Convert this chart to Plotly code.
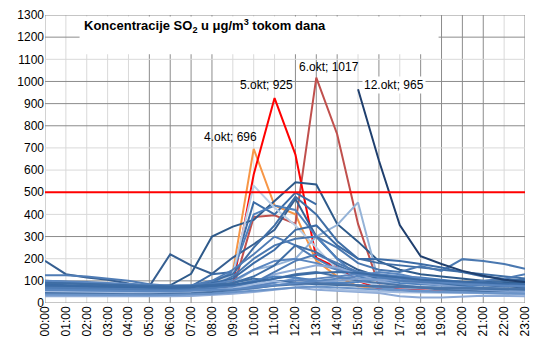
import plotly.graph_objects as go

hours = ["%02d:00" % h for h in range(24)]

okt4 = [60,58,55,52,50,52,55,60,80,140,696,440,400,190,120,75,65,62,60,58,57,56,55,55]
okt5 = [62,60,58,56,55,56,58,62,50,80,580,925,670,203,160,100,65,62,60,60,58,57,56,55]
okt6 = [65,62,60,58,57,58,60,62,48,60,388,396,357,1017,762,357,80,66,64,62,60,58,57,56]
okt12 = [None]*15 + [965,643,352,211,176,145,123,105,95]

b01 = [190,130,115,105,88,75,220,170,132,205,265,330,470,300,200,150,120,100,95,90,85,80,75,70]
b02 = [80,75,70,65,60,75,80,132,300,345,375,460,545,535,357,277,189,150,130,120,110,100,95,90]
b03 = [100,95,90,85,80,70,70,75,130,140,455,400,498,445,None,None,None,None,None,None,None,None,None,None]
b04 = [70,65,60,58,55,55,60,70,90,140,400,440,420,300,200,120,100,90,85,80,75,70,65,60]
b05 = [60,55,50,48,45,45,50,60,80,130,530,430,350,250,150,100,80,70,65,60,58,55,52,50]
b06 = [40,38,35,35,33,35,40,45,60,90,150,170,200,300,352,454,92,80,75,70,65,60,58,55]
b07 = [95,90,85,80,75,70,65,70,100,130,250,350,480,400,280,200,180,170,160,150,140,130,120,110]
b08 = [60,58,55,50,48,50,55,60,75,120,200,260,290,300,250,180,150,140,167,145,198,190,176,155]
b09 = [85,80,75,72,70,68,65,70,90,110,180,240,330,350,260,200,198,190,176,160,140,120,110,100]
b10 = [125,125,120,110,100,85,78,80,100,150,220,300,260,200,150,130,120,110,100,95,90,100,110,130]
b11 = [100,98,95,90,85,80,78,80,85,100,150,190,200,180,150,140,130,120,110,100,95,90,85,80]
b12 = [75,72,70,68,65,62,60,62,70,90,120,170,260,230,170,130,110,100,90,85,80,90,100,105]
b13 = [50,48,46,45,44,43,45,50,60,70,90,130,150,170,160,130,100,80,70,65,60,58,55,55]
b14 = [45,44,42,40,40,40,42,45,50,60,80,110,130,140,120,100,90,80,70,60,55,50,48,45]
b15 = [35,34,33,32,32,32,34,38,45,55,70,90,110,100,90,80,70,60,55,50,48,45,42,40]
b16 = [65,62,60,58,56,55,55,58,65,80,100,120,115,100,90,95,110,120,115,105,95,85,80,75]
b17 = [55,52,50,48,47,46,47,50,55,65,75,95,100,110,120,130,120,110,100,95,90,85,80,78]
b18 = [40,38,36,35,35,35,36,40,48,55,65,80,90,95,100,110,105,100,90,80,70,60,55,50]
b19 = [30,30,29,28,28,28,30,32,36,42,50,60,70,60,55,50,45,30,25,25,28,33,32,30]
b20 = [90,88,85,82,80,78,76,78,82,90,110,100,90,85,80,78,75,72,70,68,66,64,62,60]
b21 = [70,68,66,64,62,60,60,62,68,75,90,140,190,220,180,140,120,100,95,90,85,80,78,75]
b22 = [50,50,48,47,46,45,45,48,55,65,85,100,80,70,60,55,50,48,47,46,45,44,43,42]
b23 = [45,43,42,41,40,40,41,44,50,58,68,78,85,90,85,80,76,72,70,68,67,66,65,64]
b24 = [60,58,56,55,54,53,53,55,58,62,70,80,90,100,110,120,140,130,110,95,85,80,78,76]
b25 = [38,37,36,35,35,35,36,38,42,48,56,64,70,75,70,65,60,56,52,50,48,46,44,42]
b26 = [80,78,76,74,72,70,70,72,76,82,95,110,125,135,140,135,125,115,105,100,95,90,88,86]

blue_series = [b01,b02,b03,b04,b05,b06,b07,b08,b09,b10,b11,b12,b13,
               b14,b15,b16,b17,b18,b19,b20,b21,b22,b23,b24,b25,b26]
blue_colors = ['#365F91','#2E5A8A','#3B6BA5','#4F81BD','#B9CDE5','#95B3D7','#3F6EA5',
               '#4A78B0','#3B6BA5','#4F7CB5','#5B87C0','#3F6EA5','#8DAAD6','#4A74A8',
               '#6A93C8','#4F81BD','#5A84BE','#7FA0D0','#8DAAD6','#3F6EA5','#4F7CB5',
               '#A3BCE0','#4A74A8','#5B87C0','#6A93C8','#3B6BA5']

below = [("4.okt", okt4, '#F79646'), ("6.okt", okt6, '#C0504D'), ("5.okt", okt5, '#FF0000')]
above = [("12.okt", okt12, '#1F3F6E')]

x = list(range(24))
fig = go.Figure()
for name, s, c in below:
    fig.add_trace(go.Scatter(x=x, y=s, mode='lines', line=dict(color=c, width=2),
                             name=name, showlegend=False))
for s, c in zip(blue_series, blue_colors):
    fig.add_trace(go.Scatter(x=x, y=s, mode='lines', line=dict(color=c, width=2),
                             hoverinfo='skip', showlegend=False, connectgaps=False))
for name, s, c in above:
    fig.add_trace(go.Scatter(x=x, y=s, mode='lines', line=dict(color=c, width=2),
                             name=name, showlegend=False))

shapes = []
dark_v = {5,6,7,8,12,13,14,16,18,19,20,21,23}
for h in range(1, 24):
    shapes.append(dict(type='line', xref='x', yref='paper', x0=h, x1=h, y0=0, y1=1,
                       line=dict(color='#8C8C8C' if h in dark_v else '#D9D9D9', width=1),
                       layer='below'))
shapes.append(dict(type='line', xref='x', yref='paper', x0=0, x1=0, y0=0, y1=1,
                   line=dict(color='#A6A6A6', width=1), layer='below'))
dark_h = {0,100,300,800,900,1000,1200,1300}
for v in range(0, 1301, 100):
    if v == 500:
        continue
    shapes.append(dict(type='line', xref='paper', yref='y', x0=0, x1=1, y0=v, y1=v,
                       line=dict(color='#8C8C8C' if v in dark_h else '#D9D9D9', width=1),
                       layer='below'))
shapes.append(dict(type='line', xref='paper', yref='y', x0=0, x1=1, y0=500, y1=500,
                   line=dict(color='#FF0000', width=2), layer='above'))
shapes.append(dict(type='rect', xref='paper', yref='paper', x0=0.072, x1=0.82,
                   y0=0.864, y1=0.995, fillcolor='white', line=dict(width=0), layer='above'))

annotations = [dict(xref='paper', yref='paper', x=0.078, y=0.962, xanchor='left', yanchor='middle',
                    text="<b>Koncentracije SO<sub>2</sub> u μg/m<sup>3</sup> tokom dana</b>",
                    showarrow=False,
                    font=dict(family="Liberation Sans Narrow, Arial Narrow, Liberation Sans, Arial",
                              size=13, color='black'))]
offsets = {"4.okt": (-23, 12), "5.okt": (-8, 13), "6.okt": (13, 11), "12.okt": (36, 4)}
for name, s, c in below + above:
    vals = [v if v is not None else -1 for v in s]
    i = vals.index(max(vals))
    dx, dy = offsets[name]
    annotations.append(dict(x=i, y=s[i], xref='x', yref='y', text="%s; %d" % (name, s[i]),
                            showarrow=False, xshift=dx, yshift=dy,
                            bgcolor='white' if name == "12.okt" else 'rgba(0,0,0,0)',
                            font=dict(family="Liberation Sans, Arial", size=12, color='black')))

fig.update_layout(
    width=540, height=353, margin=dict(l=45, r=10, t=8, b=50),
    paper_bgcolor='white', plot_bgcolor='white',
    shapes=shapes, annotations=annotations,
    font=dict(family="Liberation Sans, Arial", size=12, color='black'),
    xaxis=dict(range=[0, 23], tickvals=x, ticktext=hours, tickangle=-90, showgrid=False,
               zeroline=False, showline=False, ticks='', tickfont=dict(size=12)),
    yaxis=dict(range=[0, 1300], tickvals=list(range(0, 1301, 100)), showgrid=False,
               zeroline=False, showline=False, ticks='', tickfont=dict(size=12)),
)
fig.write_html("out.html")
